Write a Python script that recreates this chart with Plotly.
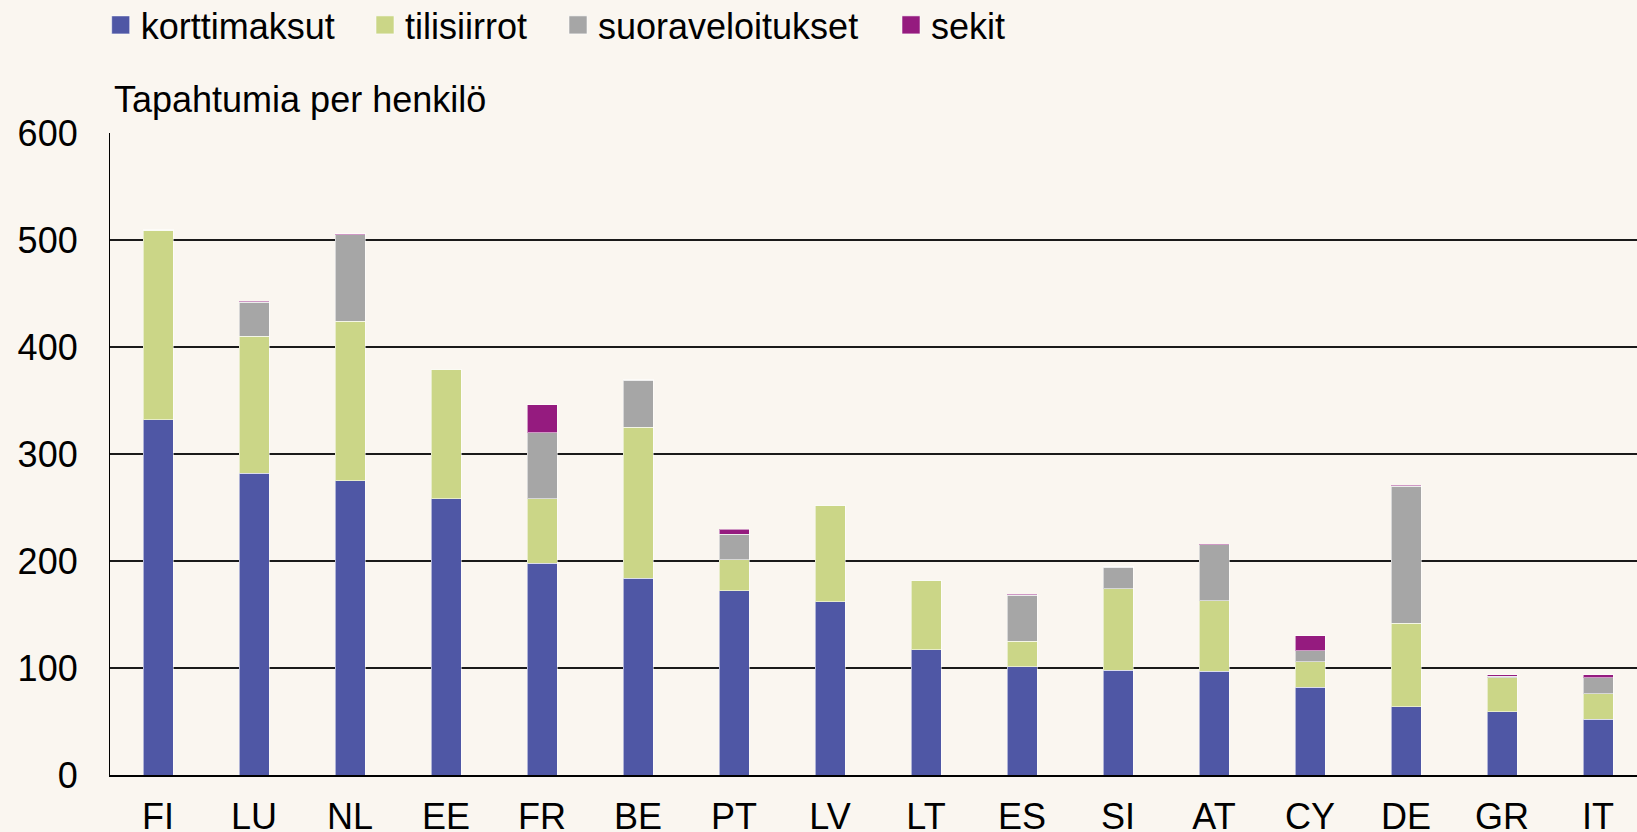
import plotly.graph_objects as go

countries = ["FI", "LU", "NL", "EE", "FR", "BE", "PT", "LV", "LT", "ES", "SI", "AT", "CY", "DE", "GR", "IT"]
korttimaksut = [332, 282, 275, 258, 198, 184, 172, 162, 117, 101, 98, 97, 82, 64, 59, 52]
tilisiirrot = [177, 128, 149, 121, 60, 141, 29, 90, 65, 24, 76, 66, 24, 78, 32, 24]
suoraveloitukset = [0, 32, 81, 0, 62, 44, 24, 0, 0, 43, 20, 52, 10, 128, 1.5, 15]
sekit = [0.6, 0.6, 0.8, 0, 26, 0.6, 4.5, 0, 0, 1, 0.6, 0.6, 14, 0.6, 1, 2.5]

series = [
    ("korttimaksut", korttimaksut, "#4F57A5"),
    ("tilisiirrot", tilisiirrot, "#CBD687"),
    ("suoraveloitukset", suoraveloitukset, "#A6A6A6"),
    ("sekit", sekit, "#951B7F"),
]

BG = "#FAF6F0"
FONT = "Liberation Sans, Arial, sans-serif"
FS = 36
W, H = 1637, 832
ML, MR, MT, MB = 110, 0, 133, 57
PW = W - ML - MR
PH = H - MT - MB

fig = go.Figure()
legend_px = [100.7, 365, 558, 891]
legend_names = ["legend", "legend2", "legend3", "legend4"]
for (name, vals, col), lg in zip(series, legend_names):
    fig.add_trace(go.Bar(
        x=countries, y=vals, name=name, width=0.3125,
        marker=dict(color=col, line=dict(color="rgba(255,255,255,0.55)", width=1)),
        legend=lg,
    ))

layout_legends = {}
for lg, px in zip(legend_names, legend_px):
    layout_legends[lg] = dict(
        x=(px - ML) / PW, xanchor="left",
        y=(H - MB - 25) / PH, yanchor="middle",
        orientation="h", bgcolor="rgba(0,0,0,0)",
        font=dict(family=FONT, size=FS, color="#000"),
    )

fig.update_layout(
    barmode="stack",
    width=W, height=H,
    margin=dict(l=ML, r=MR, t=MT, b=MB, autoexpand=False),
    paper_bgcolor=BG, plot_bgcolor=BG,
    font=dict(family=FONT, size=FS, color="#000"),
    showlegend=True,
    **layout_legends,
    xaxis=dict(
        range=[-0.5, 15.406], showgrid=False, showline=True, linecolor="#000",
        linewidth=2, ticks="", ticklabelstandoff=9, tickfont=dict(size=FS),
        automargin=False,
    ),
    yaxis=dict(
        range=[0, 600], tickvals=[0, 100, 200, 300, 400, 500, 600],
        showgrid=True, gridcolor="#1a1a1a", gridwidth=1.6, zeroline=False,
        showline=True, linecolor="#000", linewidth=1.2, ticks="",
        ticklabelstandoff=24, tickfont=dict(size=FS), automargin=False,
    ),
    annotations=[dict(
        text="Tapahtumia per henkilö", xref="paper", yref="paper",
        x=(112 - ML) / PW, y=(H - MB - 99) / PH, xanchor="left", yanchor="middle",
        showarrow=False, font=dict(family=FONT, size=FS, color="#000"),
    )],
)

post = (
    "document.body.style.margin='0';"
    "document.body.style.background='" + BG + "';"
    "document.querySelectorAll('.legendpoints path').forEach(function(p){"
    "p.setAttribute('d','M9,9H-9V-9H9Z');});"
)

fig.write_html("out.html", post_script=post, config={"displayModeBar": False})
